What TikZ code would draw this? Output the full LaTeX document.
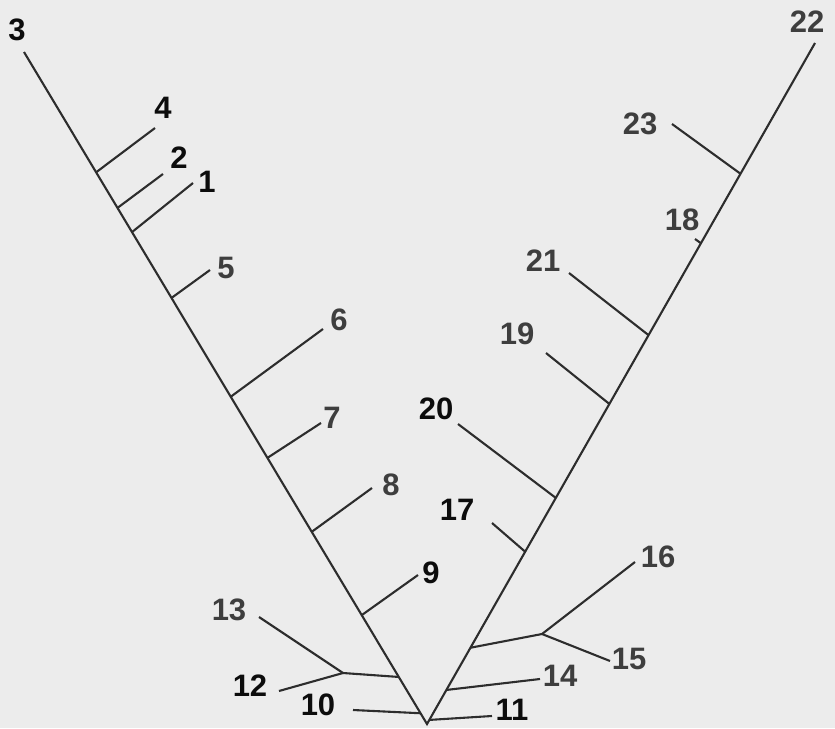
\documentclass[tikz,border=0pt]{standalone}
\usepackage{fontspec}
\setmainfont{Liberation Sans}
\usetikzlibrary{calc}
\definecolor{paper}{RGB}{236,236,236}
\definecolor{inkblack}{RGB}{12,12,12}
\definecolor{inkgray}{RGB}{62,62,62}
\definecolor{stemgray}{RGB}{45,45,45}

\begin{document}
\begin{tikzpicture}[x=1pt, y=-1pt,
    branch/.style={draw=stemgray, line width=2.1pt},
    taxon/.style={font=\fontsize{31}{31}\selectfont\bfseries, text=inkgray, inner sep=0pt},
    darktaxon/.style={taxon, text=inkblack}
]
    % Paper
    \fill[paper] (0,0) rectangle (835,728);
    \useasboundingbox (0,0) rectangle (835,728);

    % Main stems
    \coordinate (root) at (427,724);
    \coordinate (t3) at (24,52);
    \coordinate (t22) at (815,43);
    \draw[branch] (t3) -- (root) -- (t22);

    % Branch points on the left stem
    \foreach \n/\t in {4/0.821, 2/0.768, 1/0.732, 5/0.634, 6/0.487, 7/0.396, 8/0.286, 9/0.162, 12/0.070, 10/0.016}
        \coordinate (b\n) at ($(root)!\t!(t3)$);

    % Branch points on the right stem
    \foreach \n/\t in {11/0.006, 14/0.050, 15/0.112, 17/0.253, 20/0.332, 19/0.470, 21/0.571, 18/0.706, 23/0.808}
        \coordinate (b\n) at ($(root)!\t!(t22)$);

    % Inner nodes of the two small clades
    \coordinate (n12) at (343,673);
    \coordinate (n15) at (542,634);

    % Branch tips
    \coordinate (t4) at (155,128);
    \coordinate (t2) at (163,174);
    \coordinate (t1) at (193,183);
    \coordinate (t5) at (210,270);
    \coordinate (t6) at (323,329);
    \coordinate (t7) at (321,423);
    \coordinate (t8) at (372,488);
    \coordinate (t9) at (418,575);
    \coordinate (t13) at (259,617);
    \coordinate (t12) at (279,691);
    \coordinate (t10) at (353,710);
    \coordinate (t11) at (492,716);
    \coordinate (t14) at (540,679);
    \coordinate (t16) at (635,562);
    \coordinate (t15) at (610,661);
    \coordinate (t17) at (492,523);
    \coordinate (t20) at (458,424);
    \coordinate (t19) at (546,353);
    \coordinate (t21) at (569,273);
    \coordinate (t18) at (695,239);
    \coordinate (t23) at (672,124);

    % Side branches
    \foreach \n in {4,2,1,5,6,7,8,9,10,11,14,17,20,19,21,18,23}
        \draw[branch] (b\n) -- (t\n);
    \draw[branch] (b12) -- (n12) -- (t13);
    \draw[branch] (n12) -- (t12);
    \draw[branch] (b15) -- (n15) -- (t16);
    \draw[branch] (n15) -- (t15);

    % Labels
    \foreach \n/\x/\y in {3/17/30, 4/163/108, 2/179/158, 1/207/182, 9/431/573, 12/250/686, 10/318/705, 11/512/710, 17/457/510, 20/436/409}
        \node[darktaxon] (l\n) at (\x,\y) {\n};
    \foreach \n/\x/\y in {5/226/268, 6/339/320, 7/332/418, 8/391/485, 13/229/610, 14/560/676, 15/629/659, 16/658/557, 19/517/334, 21/543/261, 18/682/220, 23/640/124, 22/807/22}
        \node[taxon] (l\n) at (\x,\y) {\n};

\end{tikzpicture}
\end{document}
